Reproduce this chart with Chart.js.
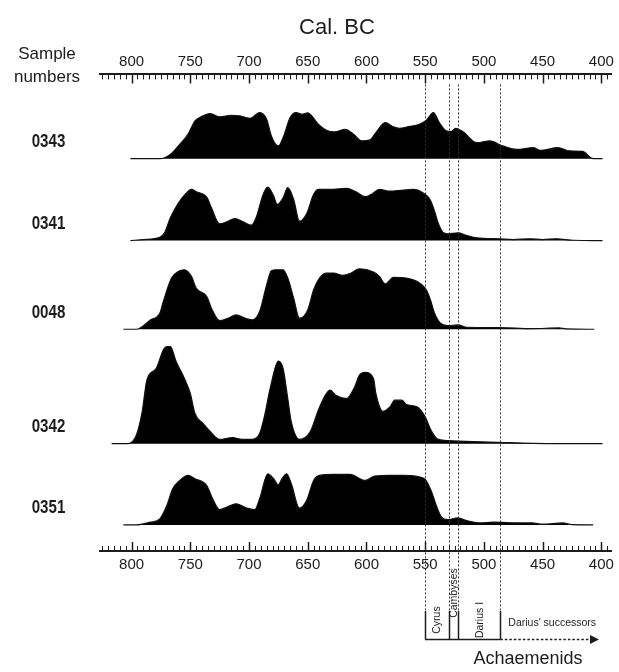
<!DOCTYPE html>
<html>
<head>
<meta charset="utf-8">
<script src="https://cdn.jsdelivr.net/npm/chart.js@4.4.0/dist/chart.umd.min.js"></script>
<style>
html,body{margin:0;padding:0;background:#fff;}
#wrap{width:619px;height:672px;position:relative;}
</style>
</head>
<body>
<div id="wrap"><canvas id="c" width="619" height="672"></canvas></div>
<script>
// ---------------- DATA ----------------
const sampleNames = ['0343', '0341', '0048', '0342', '0351'];

// calibrated year (BC) and relative probability
const years0343 = [801,776,767,759,752,746,742,733,725,715,708,699,691,685,681,675,671,665,660,655,650,641,634,627,618,611,604,597,592,584,577,572,564,555,549,543,538,532,528,524,518,506,495,484,472,458,452,437,427,416,409,407,399];
const prob0343  = [0,0,4.3,14.3,24.3,37.7,41,45,41.7,43.3,42.7,40.3,46,39.3,22.7,12.7,21,41,46,44.3,45.7,34.3,28.3,26.7,29.3,24.3,17.7,18.7,26,36,31.7,30.3,32,34.3,38.3,46,36,27.7,27,30.3,27,16,17.7,12.7,9.3,11,8.3,11,7.7,7.3,1,0,0];

const years0341 = [801,790,776,772,767,760,755,749,745,736,732,725,719,712,705,698,694,688,684,679,676,671,667,662,657,651,645,641,631,617,609,601,596,589,580,569,560,552,546,542,539,535,531,522,515,506,487,475,461,450,438,424,399];
const prob0341  = [0,1,3.3,7.7,22.7,37.7,45.3,51,48.7,43.3,32.7,16.7,18.7,22,18.7,15.3,22.7,46,53.3,44.3,36,42.7,52.7,41,19.3,26.7,46,51,51,52,48.7,43.7,46,51,49.3,50.3,51,47.7,41,29.3,17.7,8.3,6.7,7.7,5.3,2.7,1.7,1,1.7,1,1.7,0.3,0];

const years0048 = [807,796,784,776,773,766,760,755,749,745,736,732,725,718,711,703,697,691,685,681,677,671,667,662,657,650,645,640,634,628,620,613,606,594,589,584,577,566,557,550,546,542,537,531,522,515,487,459,436,430,406];
const prob0048  = [0,0,9.3,16,27.7,51,57.7,59.3,52.7,41,32.7,21,8.7,11,14.3,11,9.3,17.7,44.3,58.3,59.3,59.3,51,31,11,19.3,39.3,51,56,56,53.7,56,60.3,57,52.7,45.3,51.7,51,47.7,41,31,16,6,3.7,4.3,2,1.7,0.7,1.3,0.3,0];

const years0342 = [817,803,796,791,787,779,773,770,767,762,755,750,746,739,734,725,714,706,697,691,687,682,675,671,667,664,657,648,641,635,631,626,617,610,606,601,594,592,586,580,576,570,566,557,550,545,539,530,516,488,459,431,399];
const prob0342  = [0,0,8.3,31.7,63.3,75,93.3,96.7,96.7,81.7,65,50,30,20,13.3,4.3,6,4.3,4.3,10,26.7,55,82.3,75,45,21.7,4.3,11.7,33.3,48.3,53.3,48.3,45,56.7,68.3,71,65,50,32.3,36.7,43.3,43.3,39,36.7,26.7,13.3,4.3,3,2.3,1.3,0.3,0,0];

const years0351 = [807,796,784,776,770,765,759,752,746,736,731,725,719,711,702,695,691,684,679,675,672,668,664,657,651,645,640,628,614,601,593,580,569,557,550,545,540,536,531,522,515,503,492,470,459,450,433,425,407];
const prob0351  = [0,0,2.7,6,19.3,36,44.3,49.3,46,39.3,26,15.3,17.7,21,16.7,15.3,26,51,46,40,46,51,41,16.7,24.3,44.3,49.3,50.3,50.3,44.3,48.7,49.3,49.3,48.3,45.3,34.3,17.7,7.7,5.3,7,4.3,2,2.7,2,2,0.7,2,0.3,0];

const tickYears = [800, 750, 700, 650, 600, 550, 500, 450, 400];
const eraBounds = [550, 530, 522, 486];
const eraNames = ['Cyrus', 'Cambyses', 'Darius I'];
const successorsLabel = "Darius' successors";
const dynastyLabel = 'Achaemenids';
const axisTitle = 'Cal. BC';
const rowHeader = ['Sample', 'numbers'];

// ---------------- LAYOUT / STYLE ----------------
const yearsList = [years0343, years0341, years0048, years0342, years0351];
const probList  = [prob0343, prob0341, prob0048, prob0342, prob0351];
const rowOffset = [391, 309.4, 221, 107, 26];   // vertical baseline of each row (y-units)
const X_MIN = 391.2, X_MAX = 826.9;
const Y_MAX = 475;
const arrowEndYear = 402;
const FONT = '"Liberation Sans", Arial, Helvetica, sans-serif';
const INK = '#1c1c1c';

const datasets = sampleNames.map((name, i) => ({
  label: name,
  data: yearsList[i].map((yr, k) => ({x: yr, y: rowOffset[i] + probList[i][k]})),
  xAxisID: 'x',
  yAxisID: 'y',
  borderColor: '#111',
  borderWidth: 1.2,
  backgroundColor: '#000',
  fill: {value: rowOffset[i]},
  pointRadius: 0,
  cubicInterpolationMode: 'monotone',
  tension: 0.4
}));

const overlay = {
  id: 'overlay',
  afterDatasetsDraw(chart) {
    const {ctx, chartArea: ca} = chart;
    const x = chart.scales.x, y = chart.scales.y;
    ctx.save();

    // minor & major tick marks (inside)
    ctx.strokeStyle = INK;
    for (let v = Math.ceil(X_MIN / 5) * 5; v <= X_MAX; v += 5) {
      const px = Math.round(x.getPixelForValue(v)) + 0.5;
      const major = v % 50 === 0;
      const len = major ? 9 : 5;
      ctx.lineWidth = major ? 1.5 : 1;
      ctx.beginPath();
      ctx.moveTo(px, ca.top); ctx.lineTo(px, ca.top + len);
      ctx.moveTo(px, ca.bottom); ctx.lineTo(px, ca.bottom - len);
      ctx.stroke();
    }

    // dotted era lines
    ctx.strokeStyle = '#333';
    ctx.lineWidth = 1;
    ctx.setLineDash([2, 2]);
    eraBounds.forEach(v => {
      const px = Math.round(x.getPixelForValue(v)) + 0.5;
      ctx.beginPath();
      ctx.moveTo(px, ca.top + 10);
      ctx.lineTo(px, 611);
      ctx.stroke();
    });
    ctx.setLineDash([]);

    // bracket for reigns
    const yb = 639.5;
    ctx.strokeStyle = INK;
    ctx.lineWidth = 1.5;
    eraBounds.forEach(v => {
      const px = Math.round(x.getPixelForValue(v)) + 0.5;
      ctx.beginPath(); ctx.moveTo(px, 611); ctx.lineTo(px, yb); ctx.stroke();
    });
    const x0 = x.getPixelForValue(eraBounds[0]);
    const x3 = x.getPixelForValue(eraBounds[eraBounds.length - 1]);
    const xe = x.getPixelForValue(arrowEndYear);
    ctx.beginPath(); ctx.moveTo(x0, yb); ctx.lineTo(x3, yb); ctx.stroke();
    ctx.setLineDash([2.5, 2]);
    ctx.beginPath(); ctx.moveTo(x3, yb); ctx.lineTo(xe - 7, yb); ctx.stroke();
    ctx.setLineDash([]);
    ctx.fillStyle = INK;
    ctx.beginPath(); ctx.moveTo(xe, yb); ctx.lineTo(xe - 9, yb - 4.5); ctx.lineTo(xe - 9, yb + 4.5); ctx.closePath(); ctx.fill();

    // rotated reign labels
    ctx.font = '10.5px ' + FONT;
    ctx.textAlign = 'center';
    ctx.textBaseline = 'middle';
    const labelY = [620, 593, 620];
    eraNames.forEach((n, i) => {
      const cx = (x.getPixelForValue(eraBounds[i]) + x.getPixelForValue(eraBounds[i + 1])) / 2;
      ctx.save();
      ctx.translate(cx + 0.5, labelY[i]);
      ctx.rotate(-Math.PI / 2);
      ctx.fillText(n, 0, 0);
      ctx.restore();
    });
    ctx.textAlign = 'left';
    ctx.fillText(successorsLabel, x3 + 8, 623.5);

    ctx.font = '18px ' + FONT;
    ctx.textAlign = 'center';
    ctx.fillText(dynastyLabel, 528, 659);

    // titles
    ctx.font = '22px ' + FONT;
    ctx.fillText(axisTitle, 337, 28);
    ctx.font = '17px ' + FONT;
    ctx.fillText(rowHeader[0], 47, 54.5);
    ctx.fillText(rowHeader[1], 47, 77);

    // sample labels (condensed bold)
    ctx.font = 'bold 18px ' + FONT;
    sampleNames.forEach((n, i) => {
      ctx.save();
      ctx.translate(48.5, y.getPixelForValue(rowOffset[i]) - 16.5);
      ctx.scale(0.84, 1);
      ctx.fillText(n, 0, 0);
      ctx.restore();
    });
    ctx.restore();
  }
};

const axisCommon = {
  type: 'linear',
  min: X_MIN, max: X_MAX,
  reverse: true,
  grid: {display: false, drawTicks: false},
  border: {display: true, color: INK, width: 2},
  afterBuildTicks: axis => { axis.ticks = tickYears.map(v => ({value: v})); },
  ticks: {color: INK, font: {family: FONT, size: 15}, maxRotation: 0, autoSkip: false}
};

new Chart(document.getElementById('c'), {
  type: 'line',
  data: {datasets},
  options: {
    responsive: false,
    devicePixelRatio: 1,
    animation: false,
    layout: {padding: {left: 100, right: 7, top: 48.4, bottom: 93}},
    plugins: {legend: {display: false}, tooltip: {enabled: false}, title: {display: false}},
    scales: {
      x: Object.assign({}, axisCommon, {position: 'bottom', ticks: Object.assign({}, axisCommon.ticks, {padding: 5})}),
      x2: Object.assign({}, axisCommon, {position: 'top', ticks: Object.assign({}, axisCommon.ticks, {padding: 4})}),
      y: {type: 'linear', display: false, min: 0, max: Y_MAX}
    }
  },
  plugins: [overlay]
});
</script>
</body>
</html>
